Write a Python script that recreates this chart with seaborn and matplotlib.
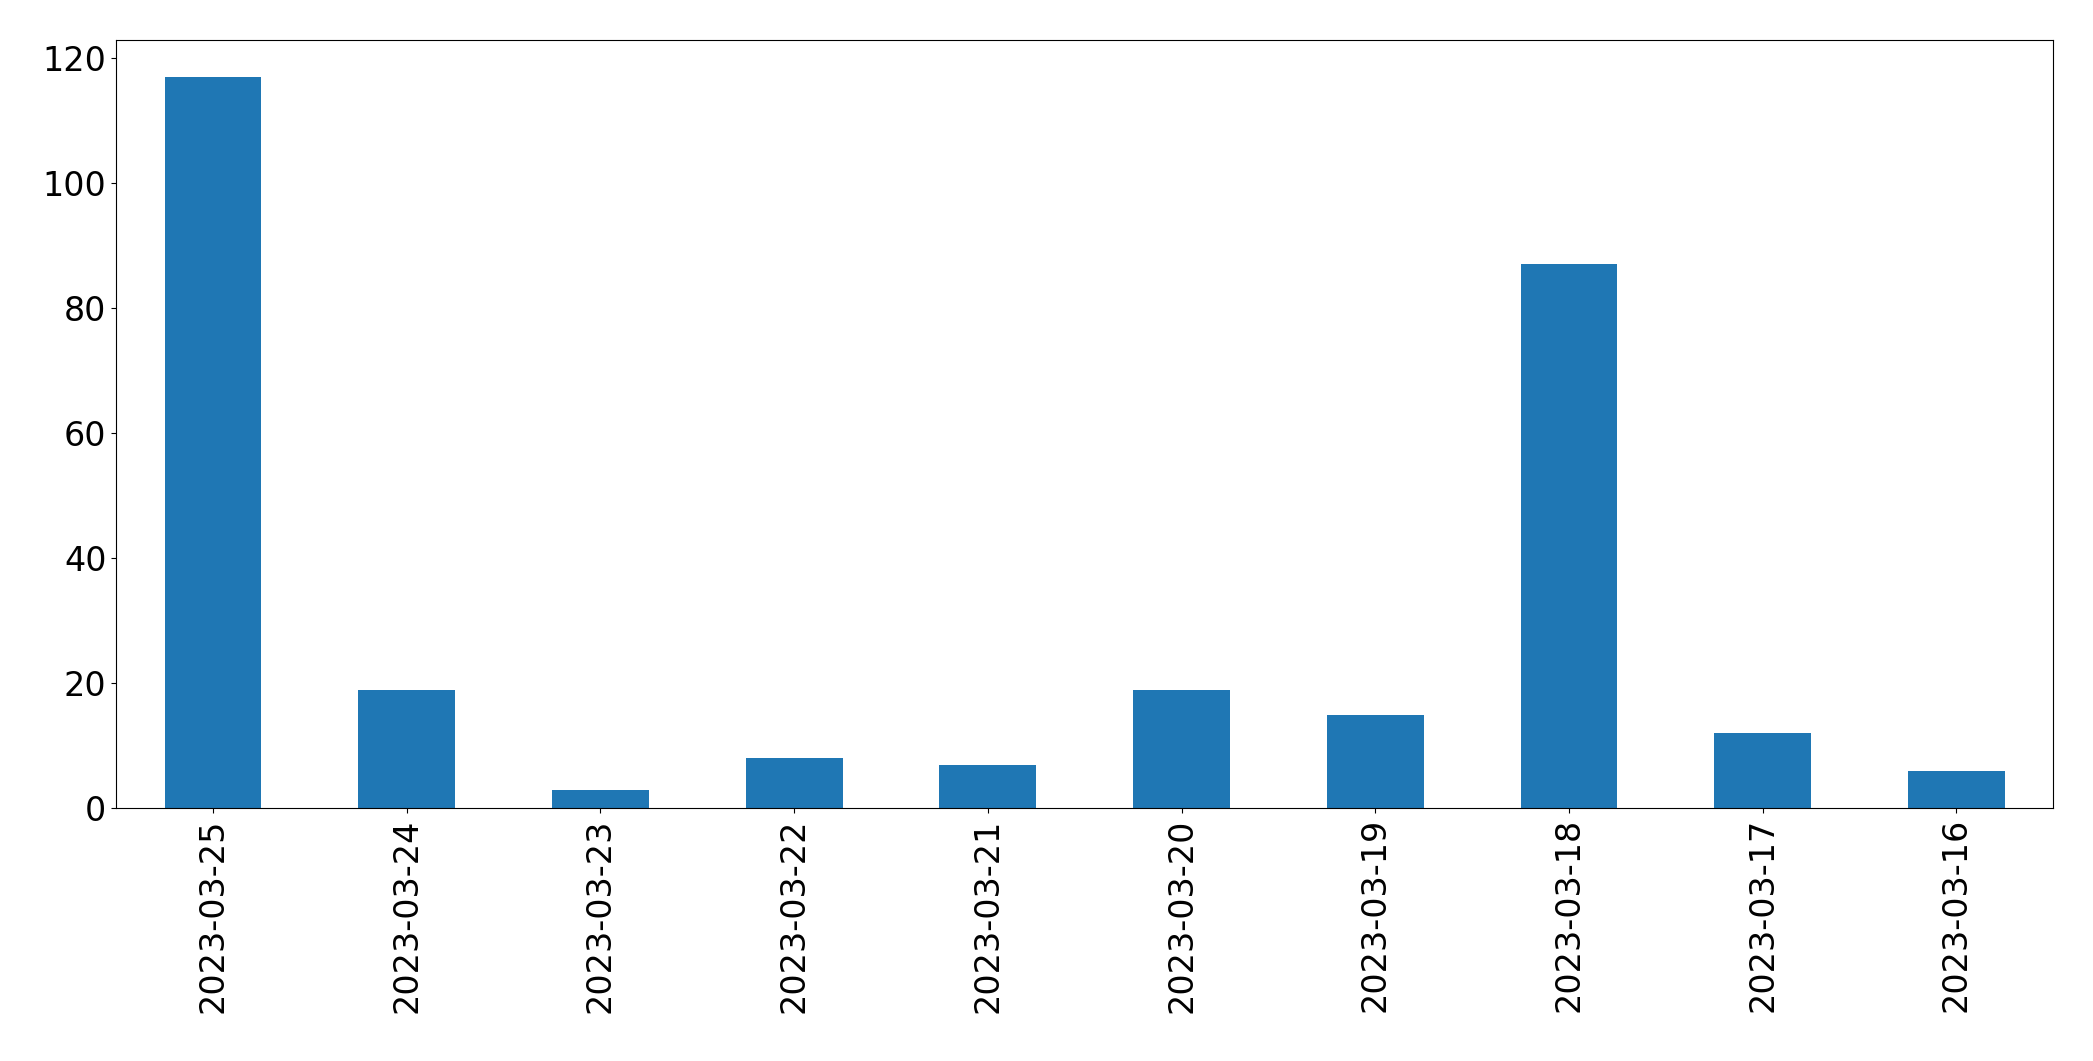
import matplotlib
matplotlib.use("Agg")
import matplotlib.pyplot as plt
import seaborn as sns
import pandas as pd

dates = ["2023-03-25", "2023-03-24", "2023-03-23", "2023-03-22", "2023-03-21",
         "2023-03-20", "2023-03-19", "2023-03-18", "2023-03-17", "2023-03-16"]
counts = [117, 19, 3, 8, 7, 19, 15, 87, 12, 6]

df = pd.DataFrame({"date": dates, "count": counts})

fig = plt.figure(figsize=(20.93, 10.61), dpi=100)
ax = fig.add_axes([0.0555, 0.238, 0.9255, 0.724])
sns.barplot(data=df, x="date", y="count", order=dates, color="#1f77b4",
            saturation=1, width=0.5, ax=ax)
ax.set_xlabel("")
ax.set_ylabel("")
ax.set_xlim(-0.5, len(dates) - 0.5)
ax.set_ylim(0, 122.85)
ax.set_yticks([0, 20, 40, 60, 80, 100, 120])
ax.tick_params(axis="x", labelrotation=90, labelsize=24)
ax.tick_params(axis="y", labelsize=24)
fig.savefig("out.png", dpi=100)
